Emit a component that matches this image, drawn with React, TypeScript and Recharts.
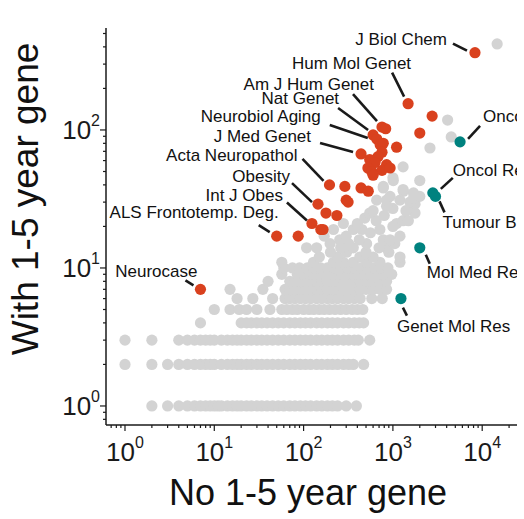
import React from 'react';
import { ScatterChart, Scatter, XAxis, YAxis } from 'recharts';

// journals with no 1-5 year gene paper (x) vs with one (y), gray rows at integer y
const grayRows = [
  { y: 1, xs: [2, 3, 4, 5, 6, 7, 8, 9, 10, 11, 12, 14, 16, 18, 20, 23, 26, 30, 34, 39, 45, 52, 60, 70, 80, 92, 105, 120, 140, 160, 185, 210, 240, 300, 390] },
  { y: 2, xs: [1, 2, 3, 4, 5, 6, 7, 8, 9, 10, 12, 14, 16, 18, 20, 23, 26, 30, 34, 39, 45, 52, 60, 70, 80, 92, 105, 120, 140, 160, 185, 210, 240, 280, 320, 360, 470] },
  { y: 3, xs: [1, 2, 4, 5, 6, 7, 8, 9, 10, 12, 14, 16, 18, 20, 23, 26, 30, 34, 39, 45, 52, 60, 70, 80, 92, 105, 120, 140, 160, 185, 210, 240, 280, 320, 370, 410, 550] },
  { y: 4, xs: [7, 20, 23, 26, 30, 34, 39, 45, 52, 60, 70, 80, 92, 105, 120, 140, 160, 185, 210, 240, 280, 320, 370, 420, 470] },
  { y: 5, xs: [10, 15, 19, 23, 30, 42, 57, 65, 75, 85, 100, 115, 130, 150, 170, 195, 225, 260, 300, 350, 400, 460] },
  { y: 6, xs: [18, 27, 45, 62, 70, 80, 92, 105, 120, 140, 160, 185, 210, 240, 280, 320, 370, 430, 580, 760] },
  { y: 7, xs: [15, 35, 62, 70, 80, 92, 105, 120, 140, 160, 185, 210, 240, 280, 320, 370, 430, 500, 600, 720, 850] },
  { y: 8, xs: [40, 70, 80, 92, 105, 120, 140, 160, 185, 210, 240, 280, 320, 370, 430, 500, 600, 720, 850] },
  { y: 9, xs: [57, 85, 100, 115, 130, 150, 175, 200, 235, 270, 310, 360, 420, 490, 570, 680, 800, 970] },
  { y: 10, xs: [60, 75, 90, 110, 130, 155, 185, 220, 260, 310, 370, 440, 520, 620, 740, 880] },
];

const grayScattered: [number, number][] = [
  [57, 11], [129, 11], [216, 11], [279, 11], [360, 11], [508, 11], [715, 11], [1200, 11],
  [150, 12], [240, 12], [426, 12], [600, 12], [1200, 12], [303, 13], [200, 13], [500, 13], [900, 13], [850, 14],
  [108, 14], [140, 14], [260, 14], [360, 14], [700, 14], [198, 15], [508, 15], [1050, 15], [320, 15],
  [254, 16], [420, 16], [781, 16], [929, 16], [300, 17], [170, 17], [1200, 17], [216, 19], [360, 19], [450, 19],
  [560, 18], [715, 19], [279, 21], [400, 21], [1100, 21], [1000, 20], [1300, 22], [485, 23], [1490, 22], [650, 22],
  [800, 24], [550, 25], [1770, 25], [600, 26], [1000, 27], [1400, 26], [850, 28], [1650, 28], [1770, 29],
  [658, 31], [1200, 31], [850, 31], [1550, 30], [929, 33], [1700, 32], [2000, 33], [1700, 35], [1310, 36], [1300, 37],
  [781, 39], [780, 38], [1010, 43], [1000, 45], [2000, 43], [1300, 54], [2600, 74], [4500, 89], [4100, 118], [14700, 420],
];

const redPoints = [
  { x: 8300, y: 363, label: 'J Biol Chem' },
  { x: 1480, y: 155, label: 'Hum Mol Genet' },
  { x: 2750, y: 126 },
  { x: 2000, y: 95 },
  { x: 755, y: 105, label: 'Am J Hum Genet' },
  { x: 830, y: 102 },
  { x: 600, y: 92, label: 'Nat Genet' },
  { x: 660, y: 86, label: 'Neurobiol Aging' },
  { x: 720, y: 78 }, { x: 780, y: 80 }, { x: 1100, y: 75 }, { x: 755, y: 69 },
  { x: 680, y: 64 }, { x: 550, y: 61 }, { x: 630, y: 58 }, { x: 850, y: 56 },
  { x: 525, y: 53 }, { x: 580, y: 50 }, { x: 755, y: 51 }, { x: 930, y: 53 }, { x: 600, y: 47 },
  { x: 440, y: 67, label: 'J Med Genet' },
  { x: 195, y: 40, label: 'Acta Neuropathol' },
  { x: 290, y: 39 }, { x: 440, y: 38 }, { x: 530, y: 36 },
  { x: 145, y: 29, label: 'Obesity' },
  { x: 300, y: 31 }, { x: 315, y: 30 }, { x: 178, y: 25 }, { x: 236, y: 24 },
  { x: 124, y: 21, label: 'Int J Obes' },
  { x: 156, y: 19 }, { x: 165, y: 19 },
  { x: 87, y: 17 },
  { x: 50, y: 17, label: 'ALS Frontotemp. Deg.' },
  { x: 7, y: 7, label: 'Neurocase' },
];

const tealPoints = [
  { x: 5650, y: 82, label: 'Oncogene' },
  { x: 2800, y: 35, label: 'Oncol Rep' },
  { x: 3000, y: 33, label: 'Tumour Biol' },
  { x: 2000, y: 14, label: 'Mol Med Rep' },
  { x: 1230, y: 6, label: 'Genet Mol Res' },
];

const xTicks = [0.7, 0.8, 0.9, 1, 2, 3, 4, 5, 6, 7, 8, 9, 10, 20, 30, 40, 50, 60, 70, 80, 90, 100, 200, 300, 400, 500, 600, 700, 800, 900, 1000, 2000, 3000, 4000, 5000, 6000, 7000, 8000, 9000, 10000, 20000];
const yTicks = [0.8, 0.9, 1, 2, 3, 4, 5, 6, 7, 8, 9, 10, 20, 30, 40, 50, 60, 70, 80, 90, 100, 200, 300, 400, 500];

// leader line (a -> b) and text offsets, in pixels from the dot
const labelLayout: Record<string, { a: number[]; b: number[]; t: number[]; anchor: 'start' | 'end' }> = {
  'J Biol Chem': { a: [-8, -2], b: [-22, -9], t: [-28, -13], anchor: 'end' },
  'Hum Mol Genet': { a: [-4, -7], b: [-16, -31], t: [3, -40], anchor: 'end' },
  'Am J Hum Genet': { a: [-5, -6], b: [-29, -33], t: [-8, -43], anchor: 'end' },
  'Nat Genet': { a: [-5, -5], b: [-35, -27], t: [-34, -36], anchor: 'end' },
  'Neurobiol Aging': { a: [-9, -1], b: [-47, -14], t: [-56, -22], anchor: 'end' },
  'J Med Genet': { a: [-8, -2], b: [-41, -11], t: [-50, -17], anchor: 'end' },
  'Acta Neuropathol': { a: [-6, -4], b: [-27, -26], t: [-32, -29], anchor: 'end' },
  'Obesity': { a: [-6, -2], b: [-26, -21], t: [-28, -28], anchor: 'end' },
  'Int J Obes': { a: [-5, -3], b: [-25, -21], t: [-29, -28], anchor: 'end' },
  'ALS Frontotemp. Deg.': { a: [-7, -4], b: [-18, -11], t: [2, -24], anchor: 'end' },
  'Neurocase': { a: [-7, -4], b: [-15, -9], t: [-3, -18], anchor: 'end' },
  'Oncogene': { a: [8, -3], b: [20, -16], t: [23, -25], anchor: 'start' },
  'Oncol Rep': { a: [8, -4], b: [20, -15], t: [20, -22], anchor: 'start' },
  'Tumour Biol': { a: [4, 5], b: [9, 16], t: [7, 26], anchor: 'start' },
  'Mol Med Rep': { a: [6, 7], b: [10, 16], t: [7, 25], anchor: 'start' },
  'Genet Mol Res': { a: [2, 9], b: [6, 17], t: [-4, 28], anchor: 'start' },
};

const FONT = '"Liberation Sans", Arial, sans-serif';
const GRAY = '#d3d3d3';
const RED = '#d9411e';
const TEAL = '#00827f';
const INK = '#1a1a1a';

const grayData = [
  ...grayRows.flatMap((r) => r.xs.map((x) => ({ x, y: r.y }))),
  ...grayScattered.map(([x, y]) => ({ x, y })),
];
const labelled = [...redPoints, ...tealPoints].filter((p) => p.label);

const isMajor = (v: number) => Math.abs(Math.log10(v) - Math.round(Math.log10(v))) < 1e-9;

const XTick = ({ x, y, payload }: any) => {
  const v = payload.value;
  const major = isMajor(v);
  return (
    <g>
      <line x1={x} x2={x} y1={y} y2={y + (major ? 6 : 3)} stroke={INK} strokeWidth={1.2} />
      {major && (
        <text x={x} y={y + 27} textAnchor="middle" dominantBaseline="central" fill={INK} fontFamily={FONT}>
          <tspan fontSize={26}>10</tspan>
          <tspan fontSize={16} dy={-10}>{Math.round(Math.log10(v))}</tspan>
        </text>
      )}
    </g>
  );
};

const YTick = ({ x, y, payload }: any) => {
  const v = payload.value;
  const major = isMajor(v);
  return (
    <g>
      <line x1={x} x2={x - (major ? 6 : 3)} y1={y} y2={y} stroke={INK} strokeWidth={1.2} />
      {major && (
        <text x={x - 6} y={y} textAnchor="end" dominantBaseline="central" fill={INK} fontFamily={FONT}>
          <tspan fontSize={26}>10</tspan>
          <tspan fontSize={16} dy={-10}>{Math.round(Math.log10(v))}</tspan>
        </text>
      )}
    </g>
  );
};

const dot = (fill: string) => (props: any) => <circle cx={props.cx} cy={props.cy} r={5.6} fill={fill} />;

const Annotation = (props: any) => {
  const { cx, cy, payload } = props;
  const L = labelLayout[payload.label];
  if (!L) return <g />;
  return (
    <g>
      <line x1={cx + L.a[0]} y1={cy + L.a[1]} x2={cx + L.b[0]} y2={cy + L.b[1]} stroke={INK} strokeWidth={2.6} />
      <text x={cx + L.t[0]} y={cy + L.t[1]} textAnchor={L.anchor} dominantBaseline="central" fontSize={17} fontFamily={FONT} fill="#111">
        {payload.label}
      </text>
    </g>
  );
};

export default function App() {
  return (
    <div style={{ position: 'absolute', left: 0, top: 0, width: 524, height: 519, overflow: 'hidden', background: '#fff' }}>
      <ScatterChart width={524} height={519} margin={{ top: 28, right: 7, bottom: 0, left: 0 }}>
        <XAxis
          type="number"
          dataKey="x"
          scale="log"
          domain={[0.6128, 24530]}
          allowDataOverflow
          ticks={xTicks}
          interval={0}
          height={94}
          tickSize={0}
          tickMargin={0}
          tick={<XTick />}
          axisLine={{ stroke: INK, strokeWidth: 1.5 }}
          tickLine={false}
        />
        <YAxis
          type="number"
          dataKey="y"
          scale="log"
          domain={[0.728, 548]}
          allowDataOverflow
          ticks={yTicks}
          interval={0}
          width={106}
          tickSize={0}
          tickMargin={0}
          tick={<YTick />}
          axisLine={{ stroke: INK, strokeWidth: 1.5 }}
          tickLine={false}
        />
        <Scatter data={grayData} shape={dot(GRAY)} isAnimationActive={false} />
        <Scatter data={redPoints} shape={dot(RED)} isAnimationActive={false} />
        <Scatter data={tealPoints} shape={dot(TEAL)} isAnimationActive={false} />
        <Scatter data={labelled} shape={Annotation} isAnimationActive={false} />
        <text x={308} y={492} textAnchor="middle" dominantBaseline="central" fontSize={36} fontFamily={FONT} fill="#111">
          No 1-5 year gene
        </text>
        <text x={25} y={199} transform="rotate(-90 25 199)" textAnchor="middle" dominantBaseline="central" fontSize={37} fontFamily={FONT} fill="#111">
          With 1-5 year gene
        </text>
      </ScatterChart>
    </div>
  );
}
